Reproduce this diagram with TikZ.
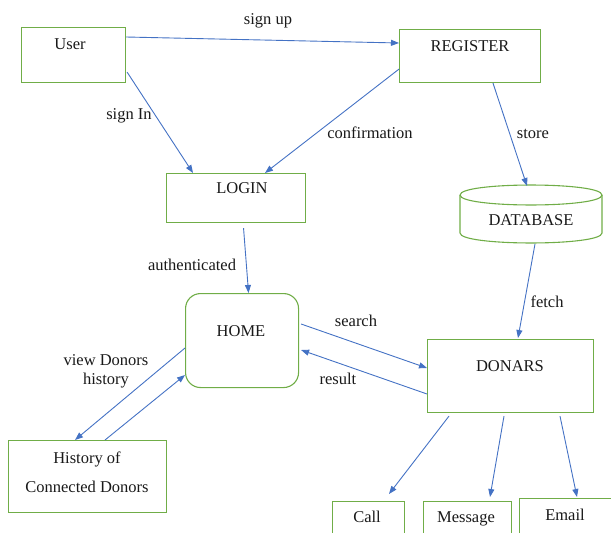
\documentclass[tikz,border=0pt]{standalone}
\usepackage{fontspec}
\setmainfont{Liberation Serif}
\usetikzlibrary{arrows.meta,calc}
\definecolor{boxgreen}{RGB}{112,173,71}
\definecolor{arrowblue}{RGB}{68,114,196}
\begin{document}
\begin{tikzpicture}[x=1pt,y=-1pt,
  box/.style={draw=boxgreen, line width=1.1pt, inner sep=0pt, anchor=north west},
  txt/.style={font=\fontsize{16.5}{19}\selectfont, text=black!90, inner sep=1pt, text height=13pt, text depth=3.5pt},
  conn/.style={draw=arrowblue, line width=0.9pt, -{Triangle[length=8pt,width=6pt]}},
]
\useasboundingbox (0,0) rectangle (611,533);
\clip (0,0) rectangle (611,533);
% boxes
\node[box, minimum width=104pt, minimum height=55pt] (user) at (21,27) {};
\node[txt] (userT) at (70,45) {User};
\node[box, minimum width=141pt, minimum height=53pt] (register) at (399,29) {};
\node[txt] (registerT) at (470,47) {REGISTER};
\node[box, minimum width=139pt, minimum height=49pt] (login) at (166,173) {};
\node[txt] (loginT) at (242,189) {LOGIN};
\node[box, rounded corners=15pt, minimum width=113pt, minimum height=94pt] (home) at (185,293) {};
\node[txt] (homeT) at (241,332) {HOME};
\node[box, minimum width=158pt, minimum height=72pt] (hist) at (8,440) {};
\node[txt, align=center, text height=, text depth=, font=\fontsize{16.5}{29}\selectfont] (histT) at (87,472) {History of\\Connected Donors};
\node[box, minimum width=166pt, minimum height=73pt] (donars) at (427,339) {};
\node[txt] (donarsT) at (510,367) {DONARS};
\node[box, minimum width=72pt, minimum height=50pt] (call) at (332,501) {};
\node[txt] (callT) at (367,518) {Call};
\node[box, minimum width=88pt, minimum height=50pt] (message) at (423,501) {};
\node[txt] (messageT) at (466,518) {Message};
\node[box, minimum width=95pt, minimum height=50pt] (email) at (519,498) {};
\node[txt] (emailT) at (565,516) {Email};
% database cylinder
\draw[draw=boxgreen, line width=1.1pt]
  (460,195) .. controls (460,181.7) and (602,181.7) .. (602,195)
  .. controls (602,208.3) and (460,208.3) .. (460,195);
\draw[draw=boxgreen, line width=1.1pt]
  (460,195) -- (460,233) .. controls (460,246.3) and (602,246.3) .. (602,233) -- (602,195);
\node[txt] (db) at (531,221) {DATABASE};
\coordinate (dbtop) at (527,186);
\coordinate (dbbot) at (535,244);
% connectors
\draw[conn] ([yshift=-10pt]user.north east) -- ([yshift=-14pt]register.north west);
\draw[conn] ([xshift=1pt,yshift=11pt]user.south east) -- ([xshift=27pt]login.north west);
\draw[conn] ([yshift=14pt]register.south west) -- ([xshift=99pt]login.north west);
\draw[conn] ([xshift=94pt]register.south west) -- (dbtop);
\draw[conn] ([xshift=7.5pt,yshift=-5pt]login.south) -- ([xshift=6.5pt]home.north);
\draw[conn] (dbbot) -- ([xshift=91pt,yshift=1pt]donars.north west);
\draw[conn] ([xshift=2pt,yshift=-31pt]home.north east) -- ([yshift=-29pt]donars.north west);
\draw[conn] ([yshift=-55pt]donars.north west) -- ([xshift=2pt,yshift=-57pt]home.north east);
\draw[conn] ([yshift=-55pt]home.north west) -- ([xshift=67pt]hist.north west);
\draw[conn] ([xshift=97pt]hist.north west) -- ([yshift=-82pt]home.north west);
\draw[conn] ([xshift=22pt,yshift=-3pt]donars.south west) -- ([xshift=57pt,yshift=7pt]call.north west);
\draw[conn] ([xshift=77pt,yshift=-3pt]donars.south west) -- ([xshift=67pt,yshift=4pt]message.north west);
\draw[conn] ([xshift=133pt,yshift=-3pt]donars.south west) -- ([xshift=58pt,yshift=1pt]email.north west);
% labels
\node[txt] (signup) at (268,20) {sign up};
\node[txt] (signin) at (129,115) {sign In};
\node[txt] (confirm) at (370,134) {confirmation};
\node[txt] (store) at (533,134) {store};
\node[txt] (auth) at (192,266) {authenticated};
\node[txt] (fetch) at (547,303) {fetch};
\node[txt] (search) at (356,322) {search};
\node[txt] (result) at (338,380) {result};
\node[txt, align=center, text height=, text depth=] (view) at (106,371) {view Donors\\history};
\end{tikzpicture}
\end{document}
